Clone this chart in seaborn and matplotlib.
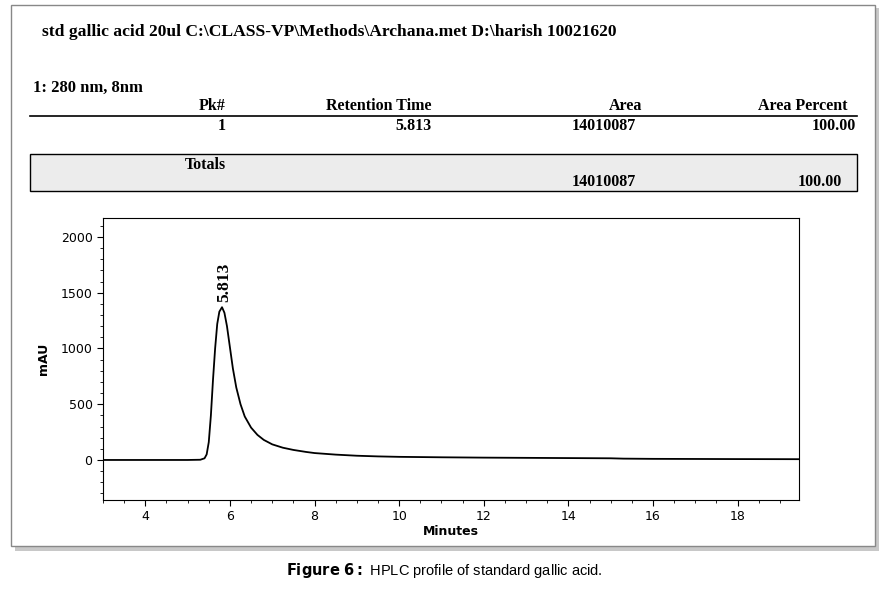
import matplotlib
matplotlib.use("Agg")
import matplotlib.pyplot as plt
import seaborn as sns
import pandas as pd
from matplotlib.patches import Rectangle
from matplotlib.ticker import MultipleLocator

minutes = [3.0, 5.0, 5.3, 5.4, 5.45, 5.5, 5.55, 5.6, 5.65, 5.7, 5.75, 5.813, 5.87, 5.93, 6.0, 6.07,
           6.15, 6.25, 6.35, 6.5, 6.65, 6.8, 7.0, 7.25, 7.5, 7.8, 8.0, 8.5, 9.0, 9.5, 10.0, 11.0,
           12.0, 13.0, 14.0, 15.0, 15.3, 16.0, 17.0, 18.0, 19.5]
mau = [0, 0, 2, 15, 50, 160, 400, 720, 1000, 1220, 1330, 1370, 1320, 1200, 1010, 820,
       650, 500, 390, 290, 225, 180, 140, 110, 90, 72, 62, 48, 38, 32, 28, 24,
       21, 19, 17, 15, 12, 10, 9, 8, 7]
peak_time = [5.813]
peak_label = ["5.813"]
xticks = [4, 6, 8, 10, 12, 14, 16, 18]
yticks = [0, 500, 1000, 1500, 2000]

df = pd.DataFrame({"Minutes": minutes, "mAU": mau})

fig = plt.figure(figsize=(8.89, 5.92), dpi=100)
W, H = 889, 592
def fx(x): return x / W
def fy(y): return 1 - y / H

fig.patches.append(Rectangle((fx(15), fy(551)), fx(864), 543 / H, transform=fig.transFigure,
                             facecolor="#c8c8c8", edgecolor="none", zorder=0))
fig.patches.append(Rectangle((fx(11), fy(546)), fx(864), 541 / H, transform=fig.transFigure,
                             facecolor="white", edgecolor="#888888", lw=1, zorder=1))

serif = dict(family="Liberation Serif", weight="bold", color="black")
fig.text(fx(42), fy(32), r"std gallic acid 20ul C:\CLASS-VP\Methods\Archana.met D:\harish 10021620",
         fontsize=12.6, va="center", **serif)
fig.text(fx(33), fy(88), "1: 280 nm, 8nm", fontsize=12, va="center", **serif)
for txt, x in [("Pk#", 226), ("Retention Time", 432), ("Area", 642), ("Area Percent", 848)]:
    fig.text(fx(x), fy(106), txt, fontsize=11.5, ha="right", va="center", **serif)
fig.add_artist(plt.Line2D([fx(30), fx(857)], [fy(116), fy(116)], transform=fig.transFigure, color="black", lw=1.2))
for txt, x in [("1", 226), ("5.813", 432), ("14010087", 636), ("100.00", 856)]:
    fig.text(fx(x), fy(126), txt, fontsize=11.5, ha="right", va="center", **serif)
fig.patches.append(Rectangle((fx(30), fy(191)), fx(827), 37 / H, transform=fig.transFigure,
                             facecolor="#ececec", edgecolor="black", lw=1, zorder=2))
fig.text(fx(226), fy(165), "Totals", fontsize=11.5, ha="right", va="center", zorder=3, **serif)
fig.text(fx(636), fy(182), "14010087", fontsize=11.5, ha="right", va="center", zorder=3, **serif)
fig.text(fx(842), fy(182), "100.00", fontsize=11.5, ha="right", va="center", zorder=3, **serif)

ax = fig.add_axes([fx(103), fy(500), (799 - 103) / W, (500 - 218) / H])
ax.set_zorder(3)
sns.lineplot(data=df, x="Minutes", y="mAU", ax=ax, color="black", lw=1.3)
ax.set_xlim(3, 19.45)
ax.set_ylim(-359, 2170)
ax.set_xticks(xticks)
ax.set_yticks(yticks)
ax.xaxis.set_minor_locator(MultipleLocator(0.5))
ax.yaxis.set_minor_locator(MultipleLocator(100))
ax.tick_params(labelsize=9, length=4)
ax.tick_params(which="minor", length=2)
ax.set_xlabel("Minutes", fontsize=9, fontweight="bold", labelpad=1)
ax.set_ylabel("mAU", fontsize=9, fontweight="bold", labelpad=8)
for sp in ax.spines.values():
    sp.set_linewidth(0.8)
for t, lab in zip(peak_time, peak_label):
    ax.text(t + 0.05, 1420, lab, rotation=90, fontsize=12.5, ha="center", va="bottom",
            family="Liberation Serif", fontweight="bold")

fig.text(fx(444), fy(571), r"$\bf{Figure\ 6:}$ HPLC profile of standard gallic acid.", fontsize=10.5,
         ha="center", va="center", family="Liberation Sans")
fig.savefig("out.png", dpi=100)
